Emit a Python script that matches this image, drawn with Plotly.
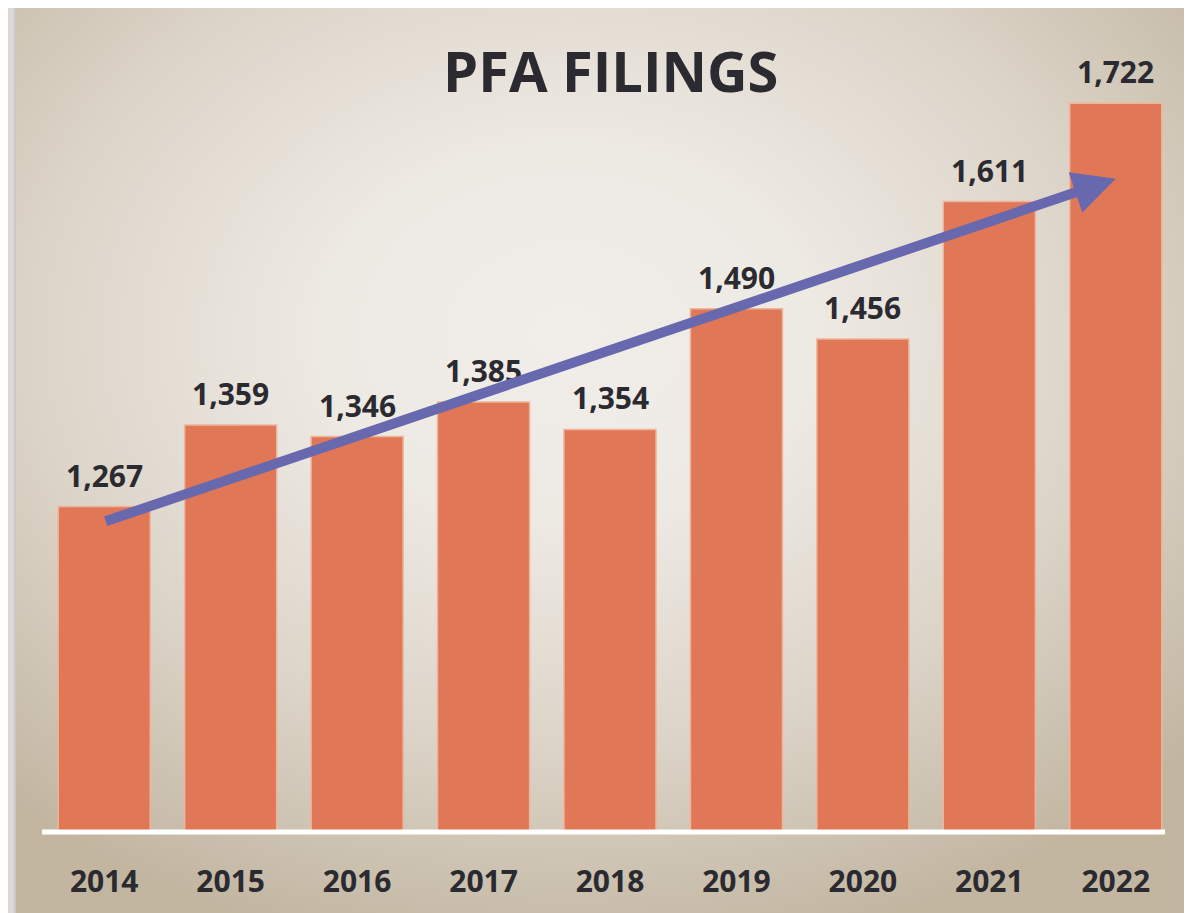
import base64
import numpy as np
import plotly.graph_objects as go

# ---- data ----
years = ["2014", "2015", "2016", "2017", "2018", "2019", "2020", "2021", "2022"]
filings = [1267, 1359, 1346, 1385, 1354, 1490, 1456, 1611, 1722]
title_text = "PFA FILINGS"

# page offset of 8px (body margin) is compensated in the geometry below
W, H = 1184, 905
L, R, T, B = 33, 13, 26, 81
pw, ph = W - L - R, H - T - B

BAR = "#E07756"
TXT = "#2A2A30"
FONT = "Open Sans"

# trend line (arrow) from a linear fit of the data
idx = np.arange(len(filings))
slope, icpt = np.polyfit(idx, filings, 1)
y_start = slope * idx[0] + icpt
y_end = slope * idx[-1] + icpt

# background: radial gradient slide as an SVG image
sx0, sy0 = 6, 0
sw, sh = W - sx0, H - sy0
svg = f'''<svg xmlns="http://www.w3.org/2000/svg" width="{sw}" height="{sh}" viewBox="0 0 {sw} {sh}" preserveAspectRatio="none">
<defs><radialGradient id="g" cx="0.47" cy="0.36" r="0.7" fx="0.47" fy="0.36">
<stop offset="0" stop-color="#F1EEEA"/>
<stop offset="0.3" stop-color="#EDE9E3"/>
<stop offset="0.65" stop-color="#DCD4C8"/>
<stop offset="1" stop-color="#C2B6A1"/>
</radialGradient></defs>
<rect x="0" y="0" width="{sw}" height="{sh}" fill="url(#g)"/>
<rect x="0" y="0" width="2" height="{sh}" fill="#C9C7CE"/>
</svg>'''
src = "data:image/svg+xml;base64," + base64.b64encode(svg.encode()).decode()

fig = go.Figure()
fig.add_trace(go.Bar(
    x=years, y=filings,
    marker=dict(color=BAR, line=dict(color="#EDB59C", width=1.5)),
    hoverinfo="x+y",
))

annotations = []
for i, v in enumerate(filings):
    annotations.append(dict(
        x=i, y=v, xref="x", yref="y", text=f"{v:,}", showarrow=False,
        yanchor="bottom", yshift=9,
        font=dict(family=FONT, size=30, color=TXT, weight="bold"),
    ))
# trend arrow
annotations.append(dict(
    x=int(idx[-1]), y=y_end, ax=int(idx[0]), ay=y_start,
    xref="x", yref="y", axref="x", ayref="y",
    text="", showarrow=True, arrowhead=2, arrowsize=0.85, arrowwidth=10,
    arrowcolor="#6868AE", standoff=0,
))
# title
annotations.append(dict(
    x=(602 - L) / pw, y=(H - B - 62) / ph, xref="paper", yref="paper",
    text=title_text, showarrow=False, xanchor="center", yanchor="middle",
    font=dict(family=FONT, size=56, color=TXT, weight="bold"),
))

fig.update_layout(
    width=W, height=H,
    margin=dict(l=L, r=R, t=T, b=B, pad=0, autoexpand=False),
    paper_bgcolor="#DCD8D4",
    plot_bgcolor="rgba(0,0,0,0)",
    bargap=0.272,
    showlegend=False,
    annotations=annotations,
    images=[dict(
        source=src, xref="paper", yref="paper",
        x=(sx0 - L) / pw, y=(H - B - sy0) / ph,
        sizex=sw / pw, sizey=sh / ph,
        xanchor="left", yanchor="top", sizing="stretch", layer="below",
    )],
    shapes=[dict(
        type="line", xref="paper", yref="paper",
        x0=(34 - L) / pw, x1=(1157 - L) / pw, y0=0, y1=0,
        line=dict(color="white", width=5), layer="above",
    )],
    xaxis=dict(
        type="category",
        showgrid=False, zeroline=False, showline=False,
        ticks="outside", ticklen=23, tickcolor="rgba(0,0,0,0)",
        tickfont=dict(family=FONT, size=30, color=TXT, weight="bold"),
    ),
    yaxis=dict(range=[900, 1800], visible=False),
)

fig.write_html("out.html")
